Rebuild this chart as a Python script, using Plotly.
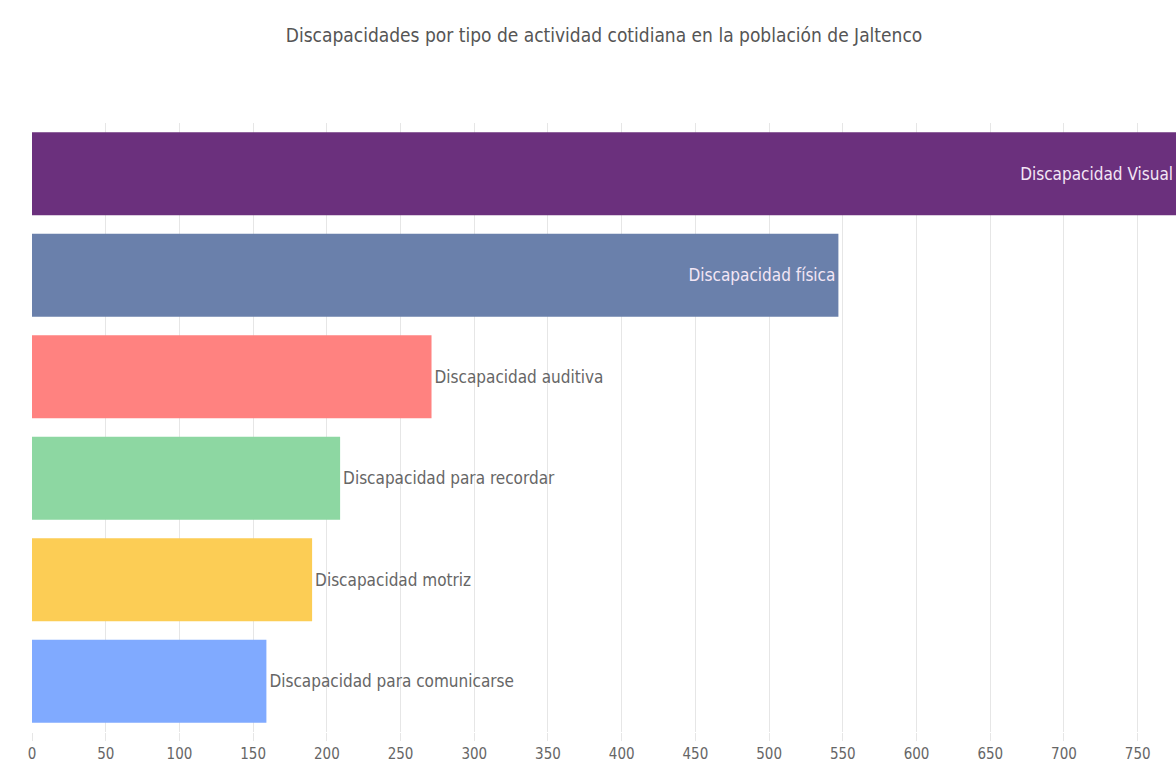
import plotly.graph_objects as go

categorias = ["Discapacidad Visual", "Discapacidad física", "Discapacidad auditiva",
              "Discapacidad para recordar", "Discapacidad motriz", "Discapacidad para comunicarse"]
valores = [776, 547, 271, 209, 190, 159]
colores = ["#6B307D", "#6A80AB", "#FF8280", "#8DD7A2", "#FCCD55", "#80AAFF"]
posiciones = ["inside", "inside", "outside", "outside", "outside", "outside"]
ticks_x = [0, 50, 100, 150, 200, 250, 300, 350, 400, 450, 500, 550, 600, 650, 700, 750]

FONT = "DejaVu Sans Condensed, Liberation Sans Narrow, sans-serif"

fig = go.Figure(go.Bar(
    x=valores, y=categorias, orientation="h",
    marker=dict(color=colores, line=dict(width=0)),
    text=categorias, textposition=posiciones,
    insidetextanchor="end",
    insidetextfont=dict(family=FONT, size=17, color="#F3E6F5"),
    outsidetextfont=dict(family=FONT, size=17, color="#666666"),
    cliponaxis=False, showlegend=False,
))

fig.update_layout(
    width=1176, height=763,
    margin=dict(l=32, r=0, t=123, b=31),
    paper_bgcolor="white", plot_bgcolor="white",
    bargap=0.18,
    title=dict(text="Discapacidades por tipo de actividad cotidiana en la población de Jaltenco",
               x=0.5, xref="paper", xanchor="center", y=1 - 35 / 763, yref="container", yanchor="middle",
               font=dict(family=FONT, size=19, color="#555555")),
    font=dict(family=FONT, color="#666666"),
)
fig.update_xaxes(range=[0, 776], tickvals=ticks_x, showgrid=True, gridcolor="#E6E6E6", gridwidth=1,
                 zeroline=False, ticks="outside", ticklen=8, tickcolor="#E6E6E6",
                 tickfont=dict(family=FONT, size=15, color="#666666"), showline=False)
fig.update_yaxes(categoryorder="array", categoryarray=categorias[::-1], showticklabels=False,
                 showgrid=False, zeroline=False, showline=False)

fig.write_html("out.html")
